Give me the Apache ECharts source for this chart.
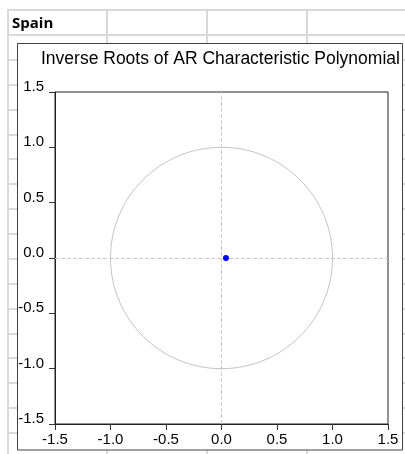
<!DOCTYPE html>
<html>
<head>
<meta charset="utf-8">
<script src="https://cdn.jsdelivr.net/npm/echarts@6/dist/echarts.min.js"></script>
<style>
  html, body { margin: 0; padding: 0; background: #fff; }
  #chart { width: 405px; height: 454px; }
</style>
</head>
<body>
<div id="chart"></div>
<script>
// Waarden uit de grafiek
const sheetLabel = 'Spain';
const chartTitle = 'Inverse Roots of AR Characteristic Polynomial';
const axisTicks = [-1.5, -1.0, -0.5, 0.0, 0.5, 1.0, 1.5];
const rootRe = [0.04];   // reeel deel van de inverse wortel
const rootIm = [0.0];    // imaginair deel
const unitCircle = [[0, 0, 1]]; // middelpunt x, middelpunt y, straal
const zeroLines = [0, 0];       // x = 0 en y = 0

// Spreadsheet raster (alleen decoratie)
const sheetCols = [8, 107, 207, 307];
const sheetRowTop = 10;
const sheetRowStart = 35;
const sheetRowStep = 24.875;

const chartInit = () => {
  const $chart = document.querySelector('#chart');
  const chart = echarts.init($chart, null, { renderer: 'canvas' });

  const gridColor = '#d9d9d9';
  const sheet = [];
  sheetCols.forEach(x => {
    sheet.push({
      type: 'line', z: -2, silent: true,
      shape: { x1: x, y1: sheetRowTop - 1, x2: x, y2: 454 },
      style: { stroke: gridColor, lineWidth: 2 }
    });
  });
  const rows = [sheetRowTop];
  for (let y = sheetRowStart; y < 454; y += sheetRowStep) rows.push(Math.round(y));
  rows.forEach(y => {
    sheet.push({
      type: 'line', z: -2, silent: true,
      shape: { x1: sheetCols[0] - 1, y1: y, x2: 405, y2: y },
      style: { stroke: gridColor, lineWidth: 2 }
    });
  });
  // kader van het grafiekobject
  sheet.push({
    type: 'rect', z: -1, silent: true,
    shape: { x: 17.5, y: 43.5, width: 385, height: 406.5 },
    style: { fill: '#fff', stroke: '#404040', lineWidth: 1 }
  });
  sheet.push({
    type: 'text', z: 1, silent: true,
    x: 12, y: 24,
    style: {
      text: sheetLabel, fill: '#000',
      font: 'bold 15px "Open Sans"',
      verticalAlign: 'middle', align: 'left'
    }
  });

  const axisCommon = {
    type: 'value',
    min: axisTicks[0],
    max: axisTicks[axisTicks.length - 1],
    interval: axisTicks[1] - axisTicks[0],
    axisLine: { show: true, onZero: false, lineStyle: { color: '#222', width: 1 } },
    axisTick: { show: true, inside: false, length: 6, lineStyle: { color: '#333' } },
    splitLine: { show: false },
    axisLabel: {
      color: '#000',
      fontFamily: 'Liberation Sans',
      fontSize: 15,
      formatter: v => v.toFixed(1),
      showMinLabel: true,
      showMaxLabel: true
    }
  };

  const options = {
    animation: false,
    graphic: sheet,
    title: {
      text: chartTitle,
      left: 41,
      top: 50,
      padding: 0,
      textStyle: {
        fontFamily: 'Liberation Sans',
        fontSize: 17.5,
        fontWeight: 'normal',
        color: '#000'
      }
    },
    grid: {
      left: 55, top: 92, width: 333, height: 332,
      show: true, borderColor: '#222', borderWidth: 1, backgroundColor: 'transparent'
    },
    xAxis: Object.assign({}, axisCommon, {
      position: 'bottom',
      axisLabel: Object.assign({}, axisCommon.axisLabel, { margin: 8 })
    }),
    yAxis: Object.assign({}, axisCommon, {
      position: 'left',
      axisLabel: Object.assign({}, axisCommon.axisLabel, {
        margin: 11, verticalAlign: 'bottom', lineHeight: 10
      })
    }),
    series: [
      {
        name: 'eenheidscirkel',
        type: 'custom',
        silent: true,
        data: unitCircle,
        renderItem: (params, api) => {
          const c = api.coord([api.value(0), api.value(1)]);
          const r = api.size([api.value(2), api.value(2)]);
          return {
            type: 'ellipse',
            shape: { cx: c[0], cy: c[1], rx: r[0], ry: r[1] },
            style: { fill: 'none', stroke: '#c4c4c4', lineWidth: 1 }
          };
        },
        markLine: {
          silent: true,
          symbol: 'none',
          label: { show: false },
          lineStyle: { color: '#c8c8c8', type: [4, 2], width: 1 },
          data: [{ xAxis: zeroLines[0] }, { yAxis: zeroLines[1] }]
        },
        z: 1
      },
      {
        name: 'wortels',
        type: 'scatter',
        symbol: 'circle',
        symbolSize: 6,
        itemStyle: { color: '#0000ff', opacity: 1, borderWidth: 0 },
        data: rootRe.map((re, i) => [re, rootIm[i]]),
        z: 10
      }
    ]
  };

  chart.setOption(options);
  window.addEventListener('resize', () => chart.resize());
};

document.addEventListener('DOMContentLoaded', chartInit);
</script>
</body>
</html>
